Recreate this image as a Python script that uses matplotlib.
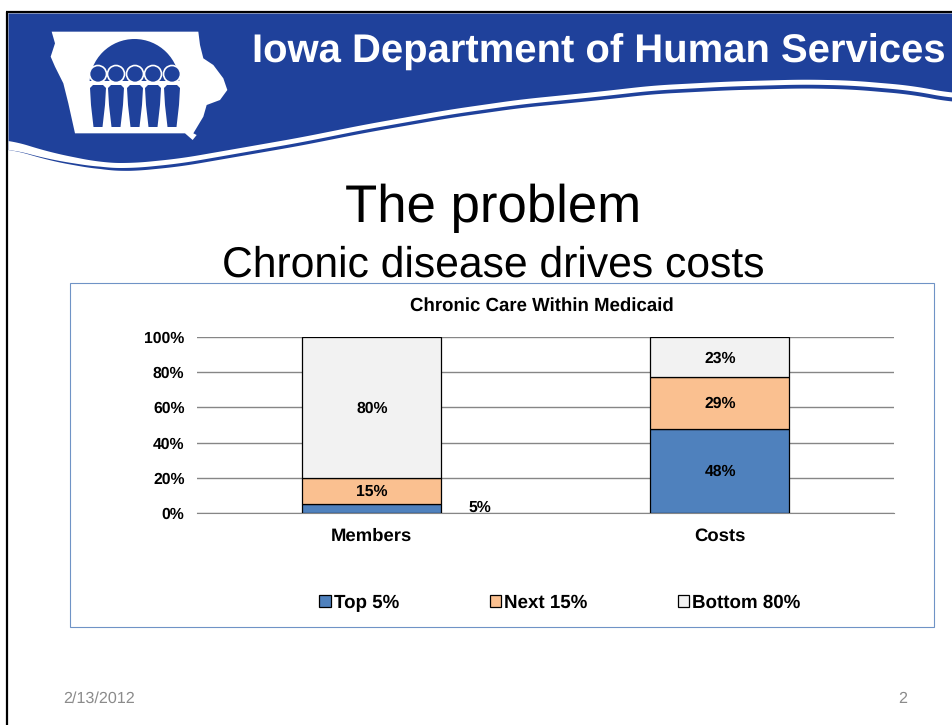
import numpy as np
import matplotlib
matplotlib.use('Agg')
import matplotlib.pyplot as plt
from matplotlib.patches import Polygon, Circle, Rectangle

plt.rcParams['font.family'] = ['Liberation Sans', 'DejaVu Sans']
plt.rcParams['text.hinting'] = 'none'

categories = ['Members', 'Costs']
top5 = [5, 48]
next15 = [15, 29]
bottom80 = [80, 23]
y_ticks = [0, 20, 40, 60, 80, 100]
series_names = ['Top 5%', 'Next 15%', 'Bottom 80%']

W, H = 953, 725
BLUE = '#1f419b'

fig = plt.figure(figsize=(W / 100, H / 100), dpi=100, facecolor='white')

# slide background in pixel coordinates
bg = fig.add_axes([0, 0, 1, 1])
bg.set_xlim(0, W)
bg.set_ylim(H, 0)
bg.axis('off')

# wave under the banner
cx = [8, 50, 100, 130, 180, 243, 300, 365, 450, 520, 600, 653, 729, 803, 851, 910, 953]
cy = [139, 152, 162, 163, 158, 147, 137, 124, 109, 99, 91, 85, 81, 79, 80, 85, 93]
xs = np.arange(8, 953.5, 0.5)
ys = np.interp(xs, cx, cy)
ys = np.convolve(np.pad(ys, 40, mode='edge'), np.ones(81) / 81, mode='valid')
white_h = np.interp(xs, [8, 100, 953], [9, 5, 5])
dark_h = np.interp(xs, [8, 60, 130, 953], [0, 1.5, 3, 4])
bg.fill_between(xs, 13, ys + white_h + dark_h, color=BLUE, lw=0, zorder=1)
bg.fill_between(xs, ys, ys + white_h, color='white', lw=0, zorder=2)

# iowa outline
iowa = np.array([(155, 95), (595, 95), (600, 135), (610, 175), (640, 195), (670, 235),
                 (682, 270), (660, 300), (620, 315), (610, 350), (580, 400), (590, 405),
                 (578, 420), (555, 400), (225, 400), (205, 310), (190, 250), (165, 200),
                 (152, 170), (165, 130)]) / 3
bg.add_patch(Polygon(iowa, closed=True, fc='white', ec='none', zorder=3))
bg.add_patch(Circle((134.5, 84), 45, fc=BLUE, ec='none', zorder=4))
bg.add_patch(Rectangle((85, 81), 100, 50, fc='white', ec='none', zorder=4))
for x in [98, 116, 135, 153, 172]:
    bg.add_patch(Circle((x, 74), 8.5, fc=BLUE, ec='white', lw=1.2, zorder=5))
    bg.add_patch(Polygon([(x - 8, 88), (x - 5, 85), (x + 5, 85), (x + 8, 88), (x + 7, 105),
                          (x + 4.5, 127), (x - 4.5, 127), (x - 7, 105)],
                         closed=True, fc=BLUE, ec='none', zorder=5))

# slide border
bg.plot([7, 7], [H, 12], color='black', lw=1.6, zorder=6, solid_capstyle='butt')
bg.plot([6, W], [12, 12], color='black', lw=1.6, zorder=6, solid_capstyle='butt')

bg.text(252, 52, 'Iowa Department of Human Services', color='white', fontsize=28.8,
        fontweight='bold', ha='left', va='center', zorder=6)
bg.text(493, 208, 'The problem', fontsize=38, ha='center', va='center', color='black')
bg.text(493, 265, 'Chronic disease drives costs', fontsize=30.7, ha='center', va='center', color='black')
bg.text(63, 699, '2/13/2012', fontsize=11.6, color='#8b8b8b', ha='left', va='center')
bg.text(903, 699, '2', fontsize=11.6, color='#8b8b8b', ha='center', va='center')

# chart frame
bg.add_patch(Rectangle((70, 283), 864, 344, fc='white', ec='#6f93c6', lw=0.8, zorder=1))

# chart
left, right, top, bottom = 197, 894, 337, 513
ax = fig.add_axes([left / W, 1 - bottom / H, (right - left) / W, (bottom - top) / H])
ax.patch.set_alpha(0)
x = np.arange(len(categories))
b1 = ax.bar(x, top5, width=0.4, color='#4f81bd', edgecolor='black', lw=0.9, label=series_names[0], zorder=3)
b2 = ax.bar(x, next15, width=0.4, bottom=top5, color='#fac090', edgecolor='black', lw=0.9, label=series_names[1], zorder=3)
b3 = ax.bar(x, bottom80, width=0.4, bottom=np.add(top5, next15), color='#f2f2f2', edgecolor='black', lw=0.9, label=series_names[2], zorder=3)

ax.set_xlim(-0.5, 1.5)
ax.set_ylim(0, 100)
ax.set_yticks(y_ticks)
ax.set_yticklabels([str(v) + '%' for v in y_ticks], fontsize=11.3, fontweight='bold')
ax.set_xticks(x)
ax.set_xticklabels(categories, fontsize=13.3, fontweight='bold')
ax.tick_params(axis='both', length=0)
ax.tick_params(axis='y', pad=9)
ax.tick_params(axis='x', pad=10.5)
ax.grid(axis='y', color='#868686', lw=1, zorder=0)
ax.set_axisbelow(True)
for s in ['top', 'left', 'right']:
    ax.spines[s].set_visible(False)
ax.spines['bottom'].set_color('#868686')

lab = []
lab += ax.bar_label(b1, labels=['', '48%'], label_type='center', fontsize=11.3, fontweight='bold')
lab += ax.bar_label(b2, labels=[str(v) + '%' for v in next15], label_type='center', fontsize=11.3, fontweight='bold')
lab += ax.bar_label(b3, labels=[str(v) + '%' for v in bottom80], label_type='center', fontsize=11.3, fontweight='bold')
for t in lab:
    t.xyann = (0.5, -0.8)
ax.annotate(str(top5[0]) + '%', (x[0], top5[0] / 2), xytext=(78, 0.5), textcoords='offset points',
            fontsize=11.3, fontweight='bold', ha='center', va='center')

ax.set_title('Chronic Care Within Medicaid', fontsize=13.4, fontweight='bold', pad=19, x=0.495)

fig.legend(handles=[b1, b2, b3], labels=series_names, ncol=3, frameon=False,
           loc='center', bbox_to_anchor=(560 / W, 1 - 603 / H),
           prop={'size': 13.5, 'weight': 'bold'},
           handlelength=0.6, handleheight=0.6, handletextpad=0.16, columnspacing=4.84,
           borderpad=0, borderaxespad=0)

fig.savefig('out.png', dpi=100)
